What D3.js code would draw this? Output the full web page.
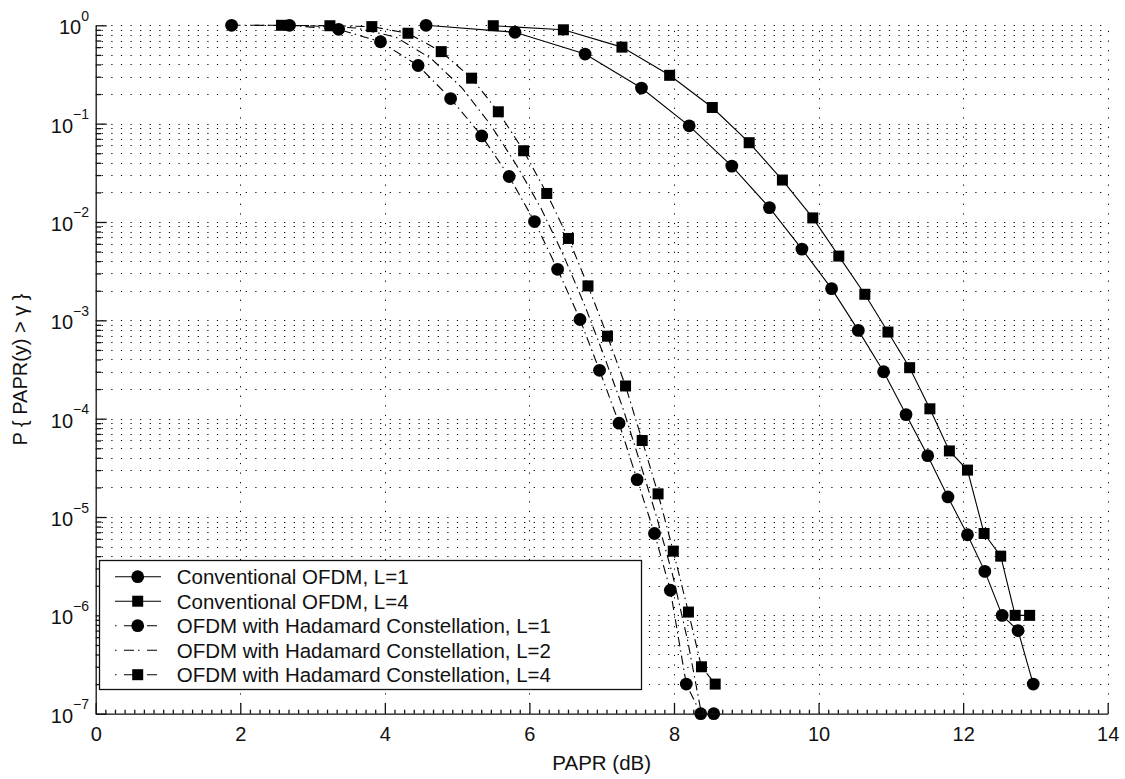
<!DOCTYPE html>
<html>
<head>
<meta charset="utf-8">
<script src="https://cdn.jsdelivr.net/npm/d3@7"></script>
<style>
  body { margin: 0; background: #fff; }
  svg text { font-family: "Liberation Sans", Arial, sans-serif; fill: #111; }
</style>
</head>
<body>
<svg width="1125" height="779"></svg>
<script>
// values
const xTicks = [0, 2, 4, 6, 8, 10, 12, 14];
const yTickExps = [0, -1, -2, -3, -4, -5, -6, -7];

const convL1X = [4.57, 5.80, 6.77, 7.55, 8.21, 8.80, 9.32, 9.77, 10.18, 10.55, 10.90, 11.21, 11.51, 11.79, 12.06, 12.30, 12.54, 12.76, 12.97];
const convL1P = [1.0, 0.85, 0.51, 0.23, 0.095, 0.037, 0.014, 0.0053, 0.0021, 7.9e-4, 3.0e-4, 1.1e-4, 4.2e-5, 1.6e-5, 6.6e-6, 2.8e-6, 1.0e-6, 7.0e-7, 2.0e-7];

const convL4X = [5.50, 6.47, 7.28, 7.94, 8.53, 9.04, 9.50, 9.92, 10.28, 10.64, 10.96, 11.26, 11.54, 11.81, 12.06, 12.29, 12.52, 12.72, 12.92];
const convL4P = [0.99, 0.90, 0.60, 0.31, 0.146, 0.064, 0.0267, 0.011, 0.0045, 0.00184, 7.6e-4, 3.3e-4, 1.26e-4, 4.7e-5, 3.0e-5, 6.8e-6, 4.0e-6, 1.0e-6, 1.0e-6];

const hadL1X = [1.88, 2.68, 3.36, 3.94, 4.46, 4.91, 5.34, 5.72, 6.07, 6.39, 6.70, 6.97, 7.24, 7.49, 7.73, 7.95, 8.17, 8.37, 8.55];
const hadL1P = [1.0, 1.0, 0.91, 0.68, 0.39, 0.18, 0.075, 0.029, 0.0101, 0.0033, 0.00102, 3.1e-4, 9.0e-5, 2.4e-5, 6.8e-6, 1.8e-6, 2.0e-7, 1e-7, 1e-7];

const hadL2X = [2.2, 2.95, 3.6, 4.15, 4.64, 5.07, 5.46, 5.82, 6.16, 6.47, 6.76, 7.03, 7.29, 7.53, 7.76, 7.98, 8.19, 8.38];
const hadL2P = [1.0, 0.99, 0.94, 0.76, 0.46, 0.23, 0.098, 0.038, 0.0138, 0.0046, 0.00145, 4.4e-4, 1.3e-4, 3.6e-5, 1.0e-5, 2.6e-6, 5.5e-7, 1.0e-7];

const hadL4X = [2.57, 3.24, 3.82, 4.32, 4.78, 5.20, 5.57, 5.92, 6.24, 6.54, 6.81, 7.08, 7.33, 7.56, 7.78, 7.99, 8.20, 8.38, 8.57];
const hadL4P = [1.0, 0.99, 0.97, 0.83, 0.54, 0.29, 0.132, 0.053, 0.0195, 0.0068, 0.00224, 6.9e-4, 2.15e-4, 6.0e-5, 1.72e-5, 4.5e-6, 1.08e-6, 3.0e-7, 2.0e-7];

const labels = [
  'Conventional OFDM, L=1',
  'Conventional OFDM, L=4',
  'OFDM with Hadamard Constellation, L=1',
  'OFDM with Hadamard Constellation, L=2',
  'OFDM with Hadamard Constellation, L=4'
];

const series = [
  {xs: convL1X, ps: convL1P, marker: 'circle', dash: null},
  {xs: convL4X, ps: convL4P, marker: 'square', dash: null},
  {xs: hadL1X, ps: hadL1P, marker: 'circle', dash: '9,4,1.5,4'},
  {xs: hadL2X, ps: hadL2P, marker: null, dash: '9,4,1.5,4'},
  {xs: hadL4X, ps: hadL4P, marker: 'square', dash: '9,4,1.5,4'}
];

const svg = d3.select('svg');
const plotLeft = 95.7, plotRight = 1107.7, plotTop = 25.3, plotBottom = 713.7;

const x = d3.scaleLinear().domain([0, 14]).range([plotLeft, plotRight]);
const y = d3.scaleLog().domain([1e-7, 1]).range([plotBottom, plotTop]);

// grid values
const yMajor = yTickExps.map(e => Math.pow(10, e));
const yMinor = [];
for (let e = -7; e < 0; e++) {
  for (let k = 2; k <= 9; k++) yMinor.push(k * Math.pow(10, e));
}
const xMinor = d3.range(0, 14.001, 2 / 15).filter(v => Math.abs(v / 2 - Math.round(v / 2)) > 1e-6);

const grid = svg.append('g')
  .attr('stroke', '#000')
  .attr('stroke-width', 1)
  .attr('stroke-dasharray', '1.2,8.4')
  .attr('fill', 'none');

grid.selectAll('.hg')
  .data(yMajor.concat(yMinor).filter(v => v > 1.01e-7))
  .enter().append('line')
  .attr('x1', plotLeft).attr('x2', plotRight)
  .attr('y1', d => Math.round(y(d)) + 0.5)
  .attr('y2', d => Math.round(y(d)) + 0.5)
  .attr('stroke-dashoffset', 3.6);

grid.selectAll('.vg')
  .data(xTicks.filter(v => v > 0))
  .enter().append('line')
  .attr('x1', d => Math.round(x(d)) + 0.5)
  .attr('x2', d => Math.round(x(d)) + 0.5)
  .attr('y1', plotBottom).attr('y2', plotTop);

// curves
const line = d3.line()
  .x(d => x(d[0]))
  .y(d => y(d[1]));

series.forEach(s => {
  const pts = s.xs.map((v, i) => [v, s.ps[i]]);
  svg.append('path')
    .datum(pts)
    .attr('d', line)
    .attr('fill', 'none')
    .attr('stroke', '#000')
    .attr('stroke-width', 1.1)
    .attr('stroke-dasharray', s.dash);

  if (s.marker === 'circle') {
    svg.append('g').selectAll('circle')
      .data(pts)
      .enter().append('circle')
      .attr('cx', d => x(d[0]))
      .attr('cy', d => y(d[1]))
      .attr('r', 6.4)
      .attr('fill', '#000');
  } else if (s.marker === 'square') {
    svg.append('g').selectAll('rect')
      .data(pts)
      .enter().append('rect')
      .attr('x', d => x(d[0]) - 5.5)
      .attr('y', d => y(d[1]) - 5.5)
      .attr('width', 11)
      .attr('height', 11)
      .attr('fill', '#000');
  }
});

// axes (box off: left and bottom only)
const xAxisGroup = svg.append('g').attr('transform', `translate(0, ${plotBottom})`);
xAxisGroup.call(d3.axisBottom(x).tickValues(xTicks).tickSizeInner(-10.7).tickSizeOuter(0).tickPadding(13));
const xMinorGroup = svg.append('g').attr('transform', `translate(0, ${plotBottom})`);
xMinorGroup.call(d3.axisBottom(x).tickValues(xMinor).tickSize(-4).tickFormat(''));
xMinorGroup.select('.domain').remove();

const yAxisGroup = svg.append('g').attr('transform', `translate(${plotLeft}, 0)`);
yAxisGroup.call(d3.axisLeft(y).tickValues(yMajor).tickSizeInner(-11).tickSizeOuter(0).tickFormat(''));
const yMinorGroup = svg.append('g').attr('transform', `translate(${plotLeft}, 0)`);
yMinorGroup.call(d3.axisLeft(y).tickValues(yMinor).tickSize(-5.5).tickFormat(''));
yMinorGroup.select('.domain').remove();

svg.selectAll('.domain, .tick line').attr('stroke', '#111').attr('stroke-width', 1.3);

xAxisGroup.selectAll('text')
  .style('font-size', '20px')
  .style('font-family', '"Liberation Sans", Arial, sans-serif')
  .attr('fill', '#111');

// log tick labels 10^n
const yLab = svg.append('g');
yTickExps.forEach(e => {
  const t = yLab.append('text')
    .attr('x', 89)
    .attr('y', y(Math.pow(10, e)) + 9)
    .attr('text-anchor', 'end')
    .style('font-size', '20px');
  t.append('tspan').text('10');
  t.append('tspan')
    .attr('dy', -13.5)
    .style('font-size', '14px')
    .text(e < 0 ? '\u2212' + (-e) : String(e));
});

// axis titles
svg.append('text')
  .attr('x', (plotLeft + plotRight) / 2)
  .attr('y', 770)
  .attr('text-anchor', 'middle')
  .style('font-size', '20.5px')
  .text('PAPR (dB)');

svg.append('text')
  .attr('transform', `translate(27, ${(plotTop + plotBottom) / 2}) rotate(-90)`)
  .attr('text-anchor', 'middle')
  .style('font-size', '20px')
  .text('P { PAPR(y) > \u03b3 }');

// legend
const legend = svg.append('g');
legend.append('rect')
  .attr('x', 99.5).attr('y', 560.5)
  .attr('width', 542).attr('height', 129)
  .attr('fill', '#fff')
  .attr('stroke', '#111')
  .attr('stroke-width', 1.3);

labels.forEach((lab, i) => {
  const cy = 576.7 + i * 24.5;
  const s = series[i];
  legend.append('line')
    .attr('x1', 115).attr('x2', 161)
    .attr('y1', cy).attr('y2', cy)
    .attr('stroke', '#000')
    .attr('stroke-width', 1.1)
    .attr('stroke-dasharray', s.dash ? '1.5,7.5,10,4' : null);
  if (s.marker === 'circle') {
    legend.append('circle').attr('cx', 137.7).attr('cy', cy).attr('r', 6.4).attr('fill', '#000');
  } else if (s.marker === 'square') {
    legend.append('rect').attr('x', 137.7 - 5.5).attr('y', cy - 5.5).attr('width', 11).attr('height', 11).attr('fill', '#000');
  }
  legend.append('text')
    .attr('x', 176.7)
    .attr('y', cy + 7.3)
    .style('font-size', '20.5px')
    .text(lab);
});
</script>
</body>
</html>
